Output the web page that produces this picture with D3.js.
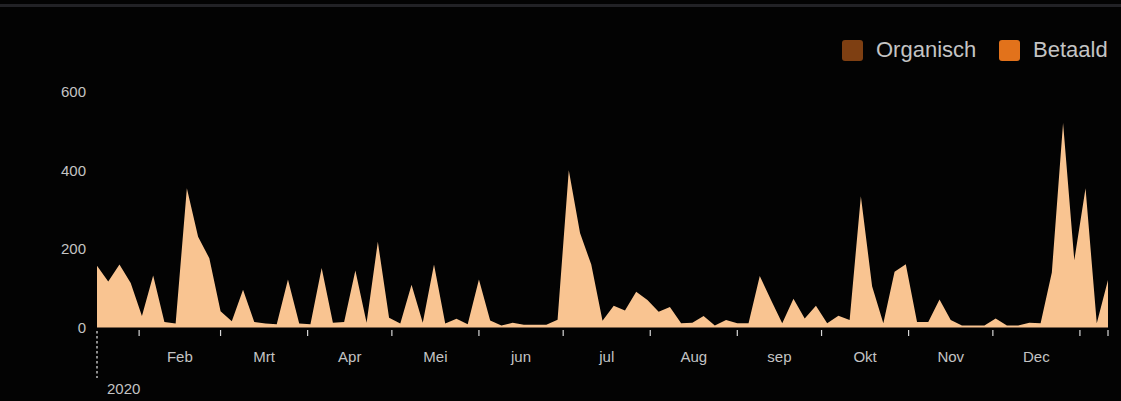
<!DOCTYPE html>
<html>
<head>
<meta charset="utf-8">
<script src="https://cdn.jsdelivr.net/npm/d3@7"></script>
<style>
  html, body { margin: 0; padding: 0; background: #030303; }
  svg { display: block; }
  text { font-family: "Liberation Sans", Arial, sans-serif; }
</style>
</head>
<body>
<script>
// ---- data ----
const startDate = "2020-01-17";
const endDate = "2021-01-11";
const stepDays = 4;
const values = [
  157, 117, 160, 113, 29, 132, 14, 10, 354, 231,
  176, 41, 16, 96, 14, 10, 8, 122, 10, 8,
  151, 12, 14, 145, 12, 218, 25, 10, 109, 12,
  160, 10, 22, 8, 122, 18, 5, 12, 7, 7,
  7, 20, 400, 240, 160, 17, 55, 43, 91, 70,
  40, 52, 11, 12, 29, 5, 19, 11, 11, 131,
  70, 11, 73, 23, 55, 11, 30, 19, 334, 105,
  11, 142, 161, 14, 14, 71, 19, 5, 5, 5,
  23, 5, 5, 12, 11, 140, 520, 171, 354, 11, 121
];
const monthLabels = ["Feb", "Mrt", "Apr", "Mei", "jun", "jul", "Aug", "sep", "Okt", "Nov", "Dec"];
const yearLabel = "2020";
const yTicks = [0, 200, 400, 600];
const legendNames = ["Organisch", "Betaald"];
const legendColors = ["#7e3f12", "#e2721b"];

// ---- setup ----
const W = 1121, H = 401;
const svg = d3.select("body").append("svg").attr("width", W).attr("height", H);
svg.append("rect").attr("width", W).attr("height", H).attr("fill", "#030303");
svg.append("rect").attr("x", 0).attr("y", 4).attr("width", W).attr("height", 3).attr("fill", "#222226");

const parse = d3.utcParse("%Y-%m-%d");
const t0 = parse(startDate), t1 = parse(endDate);
const data = values.map((v, i) => ({ date: d3.utcDay.offset(t0, i * stepDays), value: v }));

const x = d3.scaleUtc().domain([t0, t1]).range([97, 1108]);
const y = d3.scaleLinear().domain([0, 600]).range([327.5, 91.5]);

// area
const area = d3.area().x(d => x(d.date)).y0(y(0)).y1(d => y(d.value)).curve(d3.curveLinear);
svg.append("path").datum(data).attr("d", area).attr("fill", "#f9c491");

// y axis labels
svg.append("g").selectAll("text").data(yTicks).join("text")
  .attr("x", 86).attr("y", d => y(d)).attr("dy", "0.36em")
  .attr("text-anchor", "end").attr("font-size", 15).attr("fill", "#c4c4c4")
  .text(d => d);

// x ticks at month starts
const months = d3.utcMonth.range(d3.utcMonth.ceil(t0), t1);
const tickDates = months.concat([t1]);
svg.append("g").selectAll("line").data(tickDates).join("line")
  .attr("x1", d => x(d)).attr("x2", d => x(d))
  .attr("y1", 330).attr("y2", 336)
  .attr("stroke", "#d8d8d8").attr("stroke-width", 1.2);

// month labels centered in month intervals
const labelMonths = months.slice(0, monthLabels.length);
svg.append("g").selectAll("text").data(labelMonths).join("text")
  .attr("x", d => (x(d) + x(d3.utcMonth.offset(d, 1))) / 2)
  .attr("y", 362)
  .attr("text-anchor", "middle").attr("font-size", 15).attr("fill", "#c4c4c4")
  .text((d, i) => monthLabels[i]);

// year marker
svg.append("line")
  .attr("x1", x(t0)).attr("x2", x(t0)).attr("y1", 331).attr("y2", 378)
  .attr("stroke", "#d8d8d8").attr("stroke-width", 1.3).attr("stroke-dasharray", "2.5,2.5");
svg.append("text")
  .attr("x", x(t0) + 10).attr("y", 394)
  .attr("font-size", 15).attr("fill", "#c4c4c4")
  .text(yearLabel);

// legend
const legend = svg.append("g");
const legX = [842, 999];
legendNames.forEach((name, i) => {
  legend.append("rect").attr("x", legX[i]).attr("y", 40).attr("width", 21).attr("height", 21)
    .attr("rx", 3).attr("fill", legendColors[i]);
  legend.append("text").attr("x", legX[i] + 34).attr("y", 57)
    .attr("font-size", 22).attr("fill", "#c4c4c4").text(name);
});
</script>
</body>
</html>
